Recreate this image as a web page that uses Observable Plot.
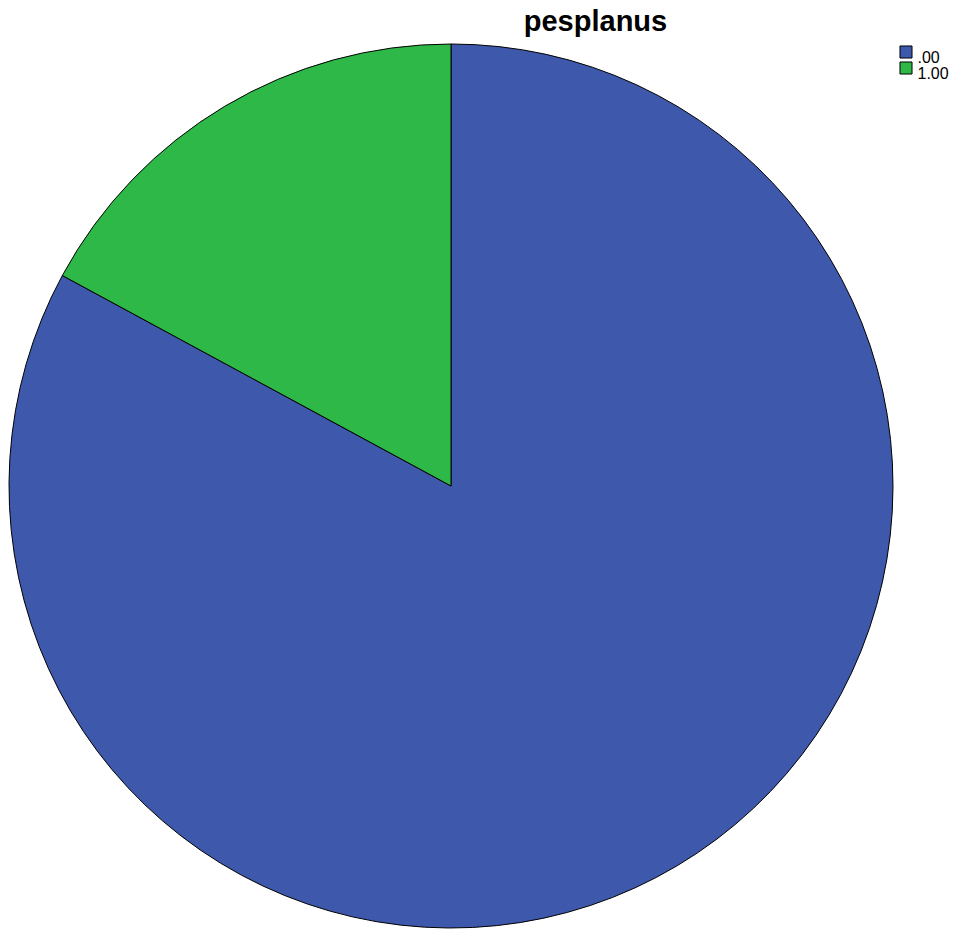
<!DOCTYPE html>
<html>
<head>
<meta charset="utf-8">
<script src="https://cdn.jsdelivr.net/npm/d3@7"></script>
<script src="https://cdn.jsdelivr.net/npm/@observablehq/plot@0.6"></script>
<style>
  html, body { margin: 0; padding: 0; background: #fff; }
  #chart { width: 969px; height: 932px; }
</style>
</head>
<body>
<div id="chart"></div>
<script>
const title = "pesplanus";
const categories = [".00", "1.00"];
const values = [82.9, 17.1];
const colors = ["#3E58AC", "#2EB848"];

const data = categories.map((c, i) => ({category: c, value: values[i]}));

// Pie mark rendered with d3.pie / d3.arc, positioned through Plot's x/y scales
function pieMark(rows) {
  return (index, scales, values_, dimensions, context) => {
    const cx = scales.x(0), cy = scales.y(0);
    const r = Math.abs(scales.x(1) - scales.x(0));
    const pie = d3.pie().sort(null).value(d => d.value);
    const arcs = pie(rows);
    const arc = d3.arc().innerRadius(0).outerRadius(r);
    const g = d3.create("svg:g").attr("transform", `translate(${cx},${cy})`);
    g.selectAll("path").data(arcs).join("path")
      .attr("d", arc)
      .attr("fill", d => scales.color(d.data.category))
      .attr("stroke", "#000")
      .attr("stroke-width", 1)
      .attr("stroke-linejoin", "round");
    return g.node();
  };
}

// stack legend rows vertically (row spacing in px)
const ROW = 16;
function stackRows(selector) {
  return (index, scales, values_, dimensions, context, next) => {
    const node = next(index, scales, values_, dimensions, context);
    d3.select(node).selectAll(selector).each(function(_, i) {
      const t = d3.select(this).attr("transform") || "";
      d3.select(this).attr("transform", t + ` translate(0, ${i * ROW})`);
    });
    return node;
  };
}

const plot = Plot.plot({
  width: 969,
  height: 932,
  marginLeft: 9,
  marginRight: 76,
  marginTop: 44,
  marginBottom: 4,
  x: {domain: [-1, 1], axis: null},
  y: {domain: [1, -1], axis: null},
  color: {domain: categories, range: colors},
  style: {background: "#fff", fontFamily: "Arial, 'Liberation Sans', sans-serif"},
  marks: [
    pieMark(data),
    Plot.text([title], {
      frameAnchor: "top", dx: 144, dy: -34, text: d => d,
      fontSize: 29, fontWeight: "bold", fill: "#000"
    }),
    Plot.dot(data, {
      frameAnchor: "top-right",
      dx: 12.5, dy: 7.5,
      fill: "category", stroke: "#000", strokeWidth: 1,
      symbol: "square", r: 6.8,
      render: stackRows("path")
    }),
    Plot.text(data, {
      frameAnchor: "top-right",
      text: "category",
      textAnchor: "start",
      fontSize: 16, fill: "#000",
      dx: 24, dy: 7.5,
      render: stackRows("text")
    })
  ]
});
document.getElementById("chart").appendChild(plot);
</script>
</body>
</html>
